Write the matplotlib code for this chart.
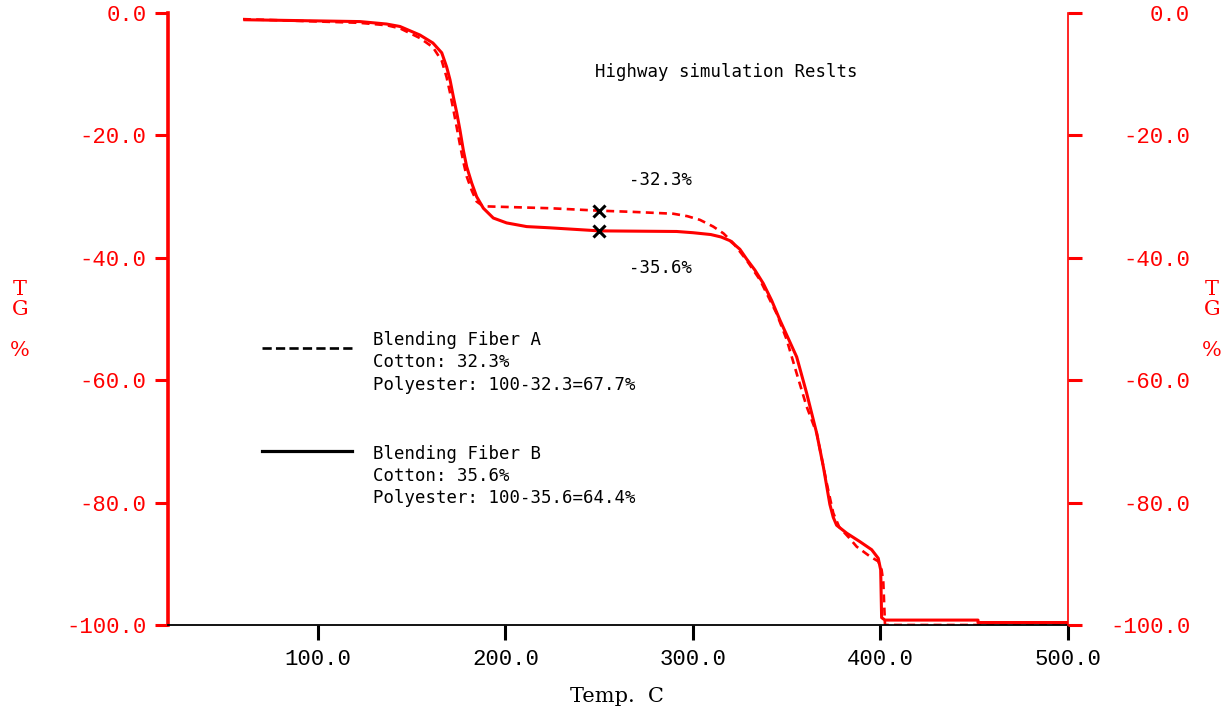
import matplotlib.pyplot as plt

# TG curves for the two blended fibres (temperature in C, mass change in %)
temp_a = [60, 122, 136.6, 143.7, 154.4, 161.3, 166, 168.6, 170.4, 172.2,
          174, 175.7, 177.5, 179.3, 182, 184.6, 187.3, 190, 223.7, 250,
          268.2, 289.5, 297, 303.7, 310.8, 316.2, 321.5, 328.6, 335.7,
          344.6, 350, 355.3, 360.6, 366, 371.3, 374.8, 378, 383.4, 387.3,
          394.4, 398.8, 400.6, 401.5, 402.4, 500]
tg_a = [-1.0, -1.6, -2.0, -2.5, -4.1, -5.6, -7.8, -10.5, -13.0, -15.8,
        -18.7, -21.5, -24.3, -26.7, -29.0, -30.8, -31.4, -31.6, -31.9, -32.3,
        -32.5, -32.8, -33.2, -33.8, -34.9, -36.0, -37.6, -40.4, -43.6,
        -49.1, -53.4, -58.9, -64.3, -68.7, -76.8, -81.7, -84.0, -85.8, -87.2,
        -88.8, -89.6, -91.0, -93.0, -100.0, -100.0]

temp_b = [61, 122.4, 136.6, 143.7, 154.4, 161.3, 166, 168.6, 170.4, 172.2,
          174, 175.7, 177.5, 179.3, 182, 184.6, 188.2, 193.5, 200.6, 211.3,
          223.7, 250, 291.3, 300, 309.5, 315, 319.7, 325, 328.6, 333, 337.5,
          342, 346.4, 355.3, 360.6, 366, 369.5, 373, 374.8, 376.6, 382,
          389.1, 395.3, 398.8, 400.1, 400.6, 402.4, 452, 452, 500]
tg_b = [-1.1, -1.4, -1.8, -2.2, -3.6, -4.9, -6.5, -8.8, -10.9, -13.7,
        -16.3, -19.1, -22.4, -25.1, -27.8, -30.0, -31.9, -33.5, -34.3, -34.9,
        -35.1, -35.6, -35.7, -35.9, -36.2, -36.6, -37.2, -38.6, -40.2, -42.0,
        -44.2, -47.0, -50.2, -56.2, -62.1, -68.7, -74.1, -80.3, -82.4, -83.7,
        -85.0, -86.4, -87.7, -89.1, -91.0, -98.8, -99.2, -99.2, -99.6, -99.6]

# residue read at 250 C
mark_temp = 250
mark_a = -32.3
mark_b = -35.6

x_ticks = [100, 200, 300, 400, 500]
y_ticks = [0, -20, -40, -60, -80, -100]

legend_a = "Blending Fiber A\nCotton: 32.3%\nPolyester: 100-32.3=67.7%"
legend_b = "Blending Fiber B\nCotton: 35.6%\nPolyester: 100-35.6=64.4%"

mono = "DejaVu Sans Mono"
tick_font = "Liberation Mono"
serif = "DejaVu Serif"

fig = plt.figure(figsize=(12.28, 7.15), dpi=100)
ax = fig.add_axes([0.1368, 0.1259, 0.7329, 0.8559])

ax.plot(temp_b, tg_b, color="red", lw=2.2, solid_joinstyle="round")
ax.plot(temp_a, tg_a, color="red", lw=1.9, ls=(0, (3, 2)))
ax.plot([mark_temp, mark_temp], [mark_a, mark_b], ls="none", marker="x",
        color="black", ms=8, mew=2.2)

ax.text(266, -27.3, f"{mark_a}%", fontsize=12.5, family=mono, va="center")
ax.text(266, -41.7, f"{mark_b}%", fontsize=12.5, family=mono, va="center")
ax.text(247.7, -9.6, "Highway simulation Reslts", fontsize=12.5,
        family=mono, va="center")

# legend drawn by hand, line sample on the left and the text block beside it
ax.plot([70, 118], [-54.7, -54.7], color="black", lw=1.9, ls=(0, (3.5, 1.6)))
ax.plot([70, 118], [-71.6, -71.6], color="black", lw=2.3)
ax.text(129.3, -52.0, legend_a, fontsize=12.5, family=mono, va="top",
        linespacing=1.3)
ax.text(129.3, -70.6, legend_b, fontsize=12.5, family=mono, va="top",
        linespacing=1.3)

ax.set_xlim(20, 500)
ax.set_ylim(-100, 0)
ax.set_xticks(x_ticks)
ax.set_xticklabels([f"{t:.1f}" for t in x_ticks], family=tick_font,
                   fontsize=16)
ax.set_yticks(y_ticks)
ax.set_yticklabels([f"{t:.1f}" for t in y_ticks], family=tick_font,
                   fontsize=16, color="red")
ax.tick_params(axis="x", direction="out", length=11, width=2.2, pad=6,
               colors="black")
ax.tick_params(axis="y", direction="out", length=9.5, width=2.2, pad=6,
               colors="red")

ax.spines["top"].set_visible(False)
ax.spines["right"].set_visible(False)
ax.spines["left"].set_color("red")
ax.spines["left"].set_linewidth(2.6)
ax.spines["bottom"].set_color("black")
ax.spines["bottom"].set_linewidth(1.3)

ax2 = ax.twinx()
ax2.set_ylim(-100, 0)
ax2.set_yticks(y_ticks)
ax2.set_yticklabels([f"{t:.1f}" for t in y_ticks], family=tick_font,
                    fontsize=16, color="red", ha="right")
ax2.tick_params(axis="y", direction="out", length=10, width=2.2, pad=78,
                colors="red")
for side in ("top", "left", "bottom"):
    ax2.spines[side].set_visible(False)
ax2.spines["right"].set_color("red")
ax2.spines["right"].set_linewidth(1.2)

fig.text(20 / 1228, 0.5524, "T\nG\n\n%", color="red", fontsize=15,
         family=serif, ha="center", va="center", linespacing=1.1)
fig.text(1212 / 1228, 0.5524, "T\nG\n\n%", color="red", fontsize=15,
         family=serif, ha="center", va="center", linespacing=1.1)
fig.text(617 / 1228, 0.0252, "Temp.  C", fontsize=15, family=serif,
         ha="center", va="center")

fig.savefig("out.png", dpi=100)
